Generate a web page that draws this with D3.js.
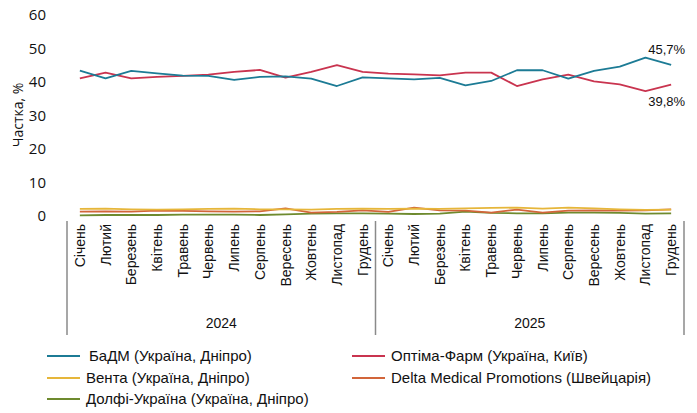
<!DOCTYPE html>
<html>
<head>
<meta charset="utf-8">
<script src="https://cdn.jsdelivr.net/npm/d3@7"></script>
<style>
  body { margin: 0; background: #fff; }
  svg { font-family: "Liberation Sans Narrow", "Liberation Sans", Arial, sans-serif; }
  .line { fill: none; stroke-width: 1.8; stroke-linejoin: round; }
</style>
</head>
<body>
<div id="chart"></div>
<script>
// data
var months = ["Січень", "Лютий", "Березень", "Квітень", "Травень", "Червень",
  "Липень", "Серпень", "Вересень", "Жовтень", "Листопад", "Грудень"];
var years = ["2024", "2025"];
var yTicks = [0, 10, 20, 30, 40, 50, 60];

var badm   = [44.0, 41.7, 43.9, 43.2, 42.5, 42.4, 41.2, 42.1, 42.3, 41.6, 39.4, 42.0,
              41.7, 41.4, 41.8, 39.6, 40.9, 44.1, 44.1, 41.6, 43.9, 45.2, 47.9, 45.7];
var optima = [41.7, 43.4, 41.7, 42.1, 42.4, 42.8, 43.6, 44.2, 41.9, 43.6, 45.6, 43.6,
              43.1, 42.9, 42.6, 43.4, 43.4, 39.4, 41.4, 42.8, 40.8, 39.9, 37.9, 39.8];
var venta  = [2.7, 2.8, 2.6, 2.5, 2.6, 2.7, 2.8, 2.6, 2.6, 2.5, 2.7, 2.8,
              2.7, 2.8, 2.7, 2.9, 3.0, 3.1, 2.8, 3.1, 2.9, 2.6, 2.4, 2.5];
var delta  = [1.9, 2.0, 1.9, 2.2, 2.1, 2.0, 1.9, 2.0, 2.9, 1.6, 1.8, 2.3,
              1.8, 3.1, 2.3, 2.2, 1.6, 2.5, 1.6, 2.2, 2.3, 2.2, 2.3, 2.6];
var dolfi  = [0.8, 0.9, 0.9, 0.9, 1.0, 1.0, 1.0, 0.9, 1.1, 1.3, 1.4, 1.4,
              1.3, 1.2, 1.3, 1.9, 1.5, 1.4, 1.4, 1.6, 1.6, 1.5, 1.3, 1.4];

var series = [
  {name: "БаДМ (Україна, Дніпро)", values: badm, color: "#1c7b95"},
  {name: "Оптіма-Фарм (Україна, Київ)", values: optima, color: "#c9344f"},
  {name: "Вента (Україна, Дніпро)", values: venta, color: "#e6b63a"},
  {name: "Delta Medical Promotions (Швейцарія)", values: delta, color: "#d2653a"},
  {name: "Долфі-Україна (Україна, Дніпро)", values: dolfi, color: "#6e8a2e"}
];

// one category per month of both years
var cats = [];
years.forEach(function(y) { months.forEach(function(m) { cats.push({year: y, month: m}); }); });

var width = 697, height = 413;

var x = d3.scaleBand()
  .domain(d3.range(cats.length))
  .range([67, 684]);

var y = d3.scaleLinear()
  .domain([0, 60])
  .range([218, 17]);

var svg = d3.select("#chart").append("svg")
  .attr("width", width)
  .attr("height", height);

// y axis labels
svg.append("g")
  .selectAll("text")
  .data(yTicks)
  .enter().append("text")
  .attr("x", 46)
  .attr("y", function(d) { return y(d) - 2; })
  .attr("dy", "0.35em")
  .attr("text-anchor", "end")
  .style("font-size", "15px")
  .style("font-family", "'Open Sans', sans-serif")
  .attr("fill", "#111")
  .text(function(d) { return d; });

// y axis title
svg.append("text")
  .attr("transform", "translate(23,115) rotate(-90)")
  .attr("text-anchor", "middle")
  .style("font-size", "14px")
  .style("font-family", "'Open Sans', sans-serif")
  .attr("fill", "#111")
  .text("Частка, %");

// month labels
svg.append("g")
  .selectAll("text")
  .data(cats)
  .enter().append("text")
  .attr("transform", function(d, i) {
    return "translate(" + (x(i) + x.bandwidth() / 2 + 5) + ",224) rotate(-90)";
  })
  .attr("text-anchor", "end")
  .style("font-size", "14px")
  .attr("fill", "#111")
  .text(function(d) { return d.month; });

// year separators
var seps = [0, months.length, cats.length];
svg.append("g")
  .selectAll("line")
  .data(seps)
  .enter().append("line")
  .attr("x1", function(d) { return d < cats.length ? x(d) : x.range()[1]; })
  .attr("x2", function(d) { return d < cats.length ? x(d) : x.range()[1]; })
  .attr("y1", 221)
  .attr("y2", 335)
  .attr("stroke", "#8a8a8a")
  .attr("stroke-width", 1.5);

// year labels
svg.append("g")
  .selectAll("text")
  .data(years)
  .enter().append("text")
  .attr("x", function(d, i) {
    return (x(i * months.length) + x((i + 1) * months.length - 1) + x.bandwidth()) / 2;
  })
  .attr("y", 328)
  .attr("text-anchor", "middle")
  .style("font-size", "14px")
  .attr("fill", "#111")
  .text(function(d) { return d; });

// lines
var line = d3.line()
  .x(function(d, i) { return x(i) + x.bandwidth() / 2; })
  .y(function(d) { return y(d); });

// small series first so the big ones stay on top
series.slice().reverse().forEach(function(s) {
  svg.append("path")
    .datum(s.values)
    .attr("class", "line")
    .attr("stroke", s.color)
    .attr("d", line);
});

// end labels
var last = cats.length - 1;
svg.append("text")
  .attr("x", x(last) + x.bandwidth() / 2 + 14)
  .attr("y", y(badm[last]) - 11)
  .attr("text-anchor", "end")
  .style("font-size", "13px")
  .attr("fill", "#111")
  .text("45,7%");

svg.append("text")
  .attr("x", x(last) + x.bandwidth() / 2 + 14)
  .attr("y", y(optima[last]) + 21)
  .attr("text-anchor", "end")
  .style("font-size", "13px")
  .attr("fill", "#111")
  .text("39,8%");

// legend
var legendPos = [[47, 356], [352, 356], [47, 378], [352, 378], [47, 399]];
var legend = svg.append("g")
  .selectAll("g")
  .data(series)
  .enter().append("g")
  .attr("transform", function(d, i) { return "translate(" + legendPos[i][0] + "," + legendPos[i][1] + ")"; });

legend.append("line")
  .attr("x1", 0)
  .attr("x2", 33)
  .attr("stroke", function(d) { return d.color; })
  .attr("stroke-width", 2);

legend.append("text")
  .attr("x", function(d, i) { return i === 0 ? 42 : 39; })
  .attr("dy", "0.35em")
  .style("font-size", "15px")
  .attr("fill", "#111")
  .text(function(d) { return d.name; });
</script>
</body>
</html>
